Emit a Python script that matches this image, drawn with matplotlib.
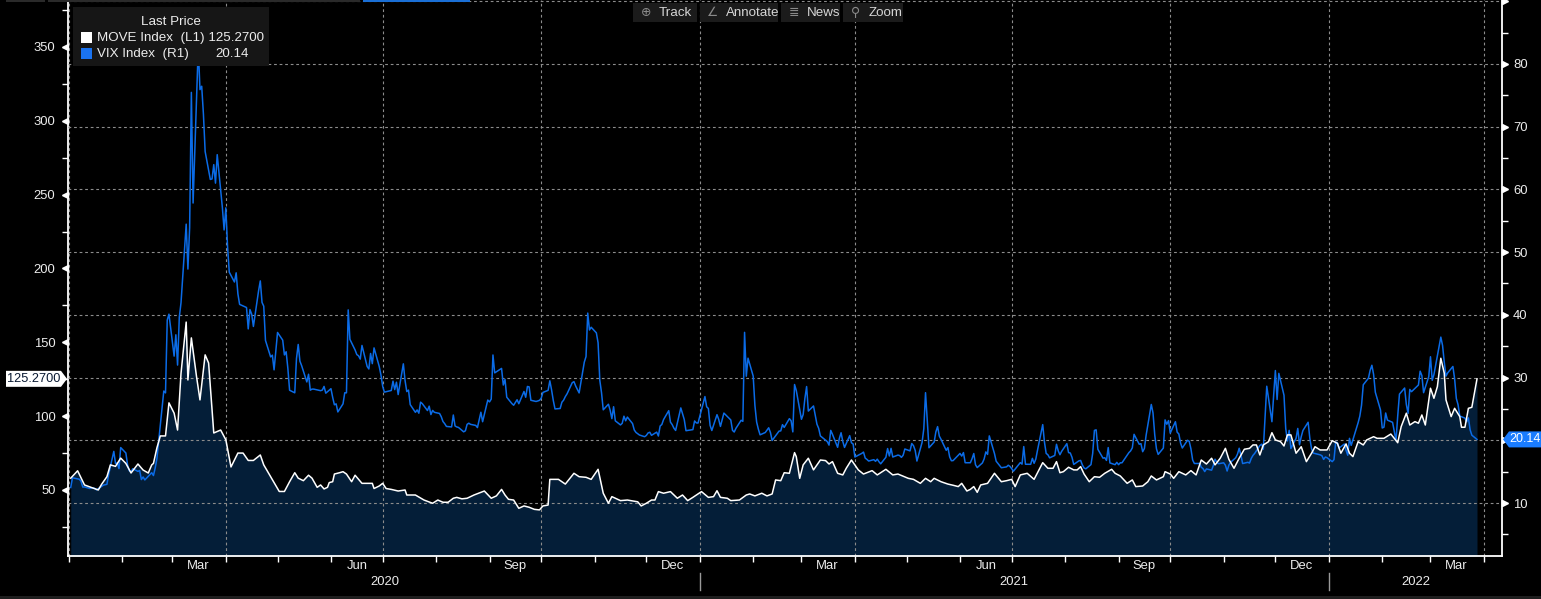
import matplotlib
matplotlib.use("Agg")
import numpy as np
import pandas as pd
import matplotlib.pyplot as plt
import matplotlib.dates as mdates
import matplotlib.transforms as mtransforms
from matplotlib.patches import Rectangle, Polygon
from matplotlib.ticker import MultipleLocator, NullFormatter, FuncFormatter

plt.rcParams['font.family'] = ['Liberation Sans', 'DejaVu Sans']

# --- data ---
# NYSE holidays in the window (VIX trading calendar)
holidays = ['2020-01-20', '2020-02-17', '2020-04-10', '2020-05-25', '2020-07-03',
            '2020-09-07', '2020-11-26', '2020-12-25',
            '2021-01-01', '2021-01-18', '2021-02-15', '2021-04-02', '2021-05-31',
            '2021-07-05', '2021-09-06', '2021-11-25', '2021-12-24',
            '2022-01-17', '2022-02-21']

# VIX daily closes, one row per month
vix_2020 = [
    12.47, 14.02, 13.85, 13.79, 13.45, 12.54, 12.56, 12.32, 12.39, 12.42, 12.32, 12.10, 12.85, 12.91, 12.98, 14.56, 18.23, 16.28, 16.39, 15.49, 18.84,
    17.97, 16.05, 15.15, 14.96, 15.47, 15.04, 15.18, 13.74, 14.15, 13.68, 14.83, 14.38, 15.56, 17.08, 25.03, 27.85, 27.56, 39.16, 40.11,
    33.42, 36.82, 31.99, 39.62, 41.94, 54.46, 47.30, 53.90, 75.47, 57.83, 82.69, 75.91, 76.45, 72.00, 66.04, 61.59, 61.67, 63.95, 61.00, 65.54, 57.08, 53.54,
    57.06, 50.91, 46.80, 45.24, 46.70, 43.35, 41.67, 41.17, 37.76, 40.84, 40.11, 38.15, 43.83, 45.41, 41.98, 41.38, 35.93, 33.29, 33.57, 31.23, 34.15,
    37.19, 35.97, 33.61, 34.12, 31.44, 27.98, 27.57, 33.04, 35.28, 32.61, 31.89, 29.30, 30.53, 27.99, 28.16, 28.16, 27.91, 28.01, 28.59, 27.51,
    28.23, 26.84, 25.66, 25.81, 24.52, 25.81, 27.57, 27.57, 40.79, 36.09, 34.40, 33.67, 33.47, 32.94, 35.12, 31.77, 31.37, 33.84, 32.22, 34.73, 31.78, 30.43,
    28.62, 27.68, 27.94, 29.43, 28.08, 29.26, 27.29, 32.19, 29.52, 27.76, 28.00, 25.68, 24.46, 24.84, 24.32, 26.08, 25.84, 24.74, 25.44, 24.10, 24.76, 24.46,
    24.28, 23.76, 22.99, 22.65, 22.21, 22.13, 24.03, 22.28, 22.13, 22.05, 21.35, 21.51, 22.54, 22.72, 22.54, 22.37, 22.03, 23.27, 24.47, 22.96, 26.41,
    26.12, 26.57, 33.60, 30.75, 31.46, 28.81, 29.71, 26.87, 25.85, 25.59, 26.04, 26.46, 25.83, 27.78, 26.86, 28.58, 28.51, 26.38, 26.19, 26.27, 26.37,
    26.70, 27.63, 27.96, 29.48, 28.06, 26.36, 25.00, 25.07, 26.07, 26.40, 26.97, 27.41, 29.18, 29.35, 28.65, 28.11, 27.55, 32.46, 33.35, 40.28, 37.59, 38.02,
    37.13, 35.55, 29.57, 27.58, 24.86, 25.75, 24.80, 23.45, 25.35, 23.10, 22.45, 22.71, 23.84, 23.11, 23.70, 22.66, 21.64, 21.25, 20.84, 20.57,
    20.77, 21.17, 21.28, 20.79, 21.30, 20.68, 22.27, 22.52, 23.31, 24.72, 22.89, 22.50, 21.93, 21.57, 25.16, 24.23, 23.31, 21.53, 21.70, 23.08, 22.77, 22.75,
]
vix_2021 = [
    26.97, 25.34, 25.07, 22.37, 21.56, 24.08, 23.33, 22.21, 23.25, 24.34, 23.24, 21.58, 21.32, 21.91, 23.19, 23.02, 37.21, 30.21, 33.09,
    30.24, 25.56, 22.91, 21.77, 20.87, 21.24, 21.63, 21.99, 21.25, 19.97, 21.46, 21.50, 22.49, 22.05, 23.45, 23.11, 21.34, 28.89, 27.95,
    23.35, 24.10, 26.67, 28.57, 24.66, 25.47, 24.03, 22.56, 21.91, 20.69, 20.03, 19.79, 19.23, 21.58, 20.95, 18.88, 20.30, 21.20, 19.81, 18.86, 20.74, 19.61, 19.40,
    17.33, 17.91, 18.12, 17.16, 16.95, 16.69, 16.91, 16.65, 16.99, 16.57, 16.25, 17.29, 18.68, 17.50, 18.71, 17.33, 17.64, 17.56, 17.28, 17.61, 18.61,
    18.31, 19.48, 19.15, 18.39, 16.69, 19.66, 21.84, 27.59, 23.13, 18.81, 19.72, 21.34, 22.18, 20.67, 20.15, 18.40, 18.84, 17.36, 16.74, 16.76,
    17.90, 17.48, 18.04, 16.42, 16.42, 17.07, 17.89, 16.10, 15.65, 16.39, 17.02, 18.15, 17.75, 20.70, 17.89, 16.66, 16.32, 15.97, 15.62, 15.76, 16.02, 15.83,
    15.48, 15.07, 16.44, 16.20, 19.00, 16.18, 16.17, 17.12, 16.33, 17.01, 18.45, 22.50, 19.73, 17.91, 17.69, 17.20, 17.58, 19.36, 18.31, 17.70, 18.24,
    19.46, 18.04, 17.97, 17.28, 16.15, 16.72, 16.79, 16.06, 15.59, 15.45, 16.12, 17.91, 21.57, 21.67, 18.56, 17.15, 17.22, 16.79, 18.84, 16.39, 16.11, 16.48,
    16.11, 16.41, 16.41, 18.03, 18.31, 18.80, 20.95, 19.37, 19.46, 18.18, 18.69, 20.81, 25.71, 24.36, 20.87, 18.63, 17.75, 18.76, 23.25, 22.56, 23.14,
    21.15, 22.96, 21.30, 21.00, 19.54, 18.77, 20.00, 19.85, 18.64, 16.86, 16.30, 16.30, 15.70, 15.49, 15.01, 15.43, 15.24, 15.98, 16.98, 16.53, 16.26,
    16.41, 16.03, 15.10, 16.03, 16.48, 17.22, 17.78, 18.73, 17.66, 16.29, 16.49, 16.37, 17.11, 17.59, 17.91, 19.17, 19.38, 18.58, 28.62, 22.96, 27.19,
    31.12, 26.50, 30.67, 27.18, 21.89, 19.90, 21.58, 18.69, 20.31, 21.89, 19.29, 20.57, 21.57, 22.87, 20.31, 18.63, 17.96, 17.68, 17.54, 16.95, 17.33, 17.22,
]
vix_2022 = [
    16.60, 16.91, 19.73, 19.61, 18.76, 19.40, 18.41, 17.62, 20.31, 19.19, 22.79, 23.85, 25.59, 28.85, 29.90, 31.16, 31.96, 30.49, 27.66, 24.83,
    21.96, 22.09, 24.35, 23.22, 22.86, 21.44, 19.96, 23.91, 27.36, 28.33, 25.70, 24.29, 28.11, 27.75, 28.81, 31.02, 30.32, 27.59, 30.15,
    33.32, 29.57, 30.48, 31.98, 36.45, 35.13, 32.45, 30.23, 30.75, 31.77, 29.83, 26.67, 25.67, 23.87, 23.53, 22.94, 23.57, 21.67, 20.81, 20.14,
]

# MOVE index: days since 2020-01-01 and level
move_days = [
    1, 5, 9, 17, 19, 22, 24, 27, 30, 33, 36, 40, 43, 46, 48, 49, 51, 53, 56, 58,
    61, 63, 65, 68, 69, 71, 74, 76, 79, 81, 84, 88, 91, 94, 98, 101, 104, 107, 111, 113,
    117, 122, 125, 128, 131, 133, 136, 139, 141, 144, 146, 148, 150, 151, 153, 154, 157, 159, 161, 164,
    166, 170, 173, 176, 177, 180, 182, 184, 187, 191, 195, 196, 201, 206, 211, 214, 217, 220, 223, 225,
    228, 231, 235, 241, 245, 248, 251, 253, 255, 258, 261, 264, 267, 270, 273, 275, 278, 279, 284, 288,
    293, 296, 300, 303, 307, 310, 313, 315, 320, 324, 330, 332, 335, 338, 340, 342, 345, 349, 353, 356,
    359, 362, 367, 371, 374, 376, 378, 382, 384, 389, 393, 395, 398, 402, 405, 408, 410, 413, 415, 418,
    421, 422, 424, 426, 429, 432, 436, 439, 441, 443, 446, 449, 451, 454, 458, 461, 466, 469, 474, 478,
    481, 487, 490, 494, 497, 500, 502, 506, 510, 513, 516, 518, 521, 523, 525, 527, 529, 533, 537, 541,
    544, 547, 549, 552, 556, 560, 562, 565, 568, 571, 573, 575, 577, 580, 583, 585, 587, 589, 592, 595,
    598, 601, 605, 607, 610, 614, 617, 619, 623, 626, 628, 631, 635, 636, 639, 641, 644, 648, 651, 654,
    657, 660, 663, 665, 668, 671, 673, 676, 679, 682, 685, 687, 689, 691, 693, 696, 698, 700, 703, 705,
    707, 709, 712, 715, 718, 721, 723, 726, 730, 733, 736, 738, 741, 743, 745, 748, 751, 753, 757, 759,
    763, 767, 771, 773, 776, 778, 781, 783, 785, 787, 790, 792, 794, 796, 798, 799, 802, 804, 807, 808,
    810, 812, 814, 817,
]
move_vals = [
    58, 63, 53.4, 50, 54, 59, 67, 66, 71.6, 68, 61.5, 67.6, 63.5, 61.5, 67, 68, 78.5, 86.6, 86.6, 109,
    102, 90.6, 129, 163.7, 124.5, 153, 126.8, 111, 141.5, 136, 88.6, 90.6, 84, 65.6, 75, 75, 70, 70, 73.7, 67,
    59, 49, 49, 55.6, 61.7, 58, 56.3, 60, 58, 51.8, 53.4, 50.7, 51.8, 55, 55.6, 60.8, 61.7, 62.4, 60.8, 55.6,
    60, 54.5, 54.5, 54.5, 51, 52.7, 54.5, 51, 50.4, 49.3, 50, 46.6, 46.6, 43.2, 41, 43.2, 41.7, 41.7, 44.4, 45,
    44, 44.4, 46.6, 49.3, 44.4, 46, 50.4, 46.6, 43.7, 43.2, 37.6, 39.2, 38.3, 36.9, 36.5, 39.2, 39.8, 57.2, 57.2, 54,
    61.3, 59, 58.6, 57.2, 64, 47.8, 41, 45.5, 42.8, 43.2, 42, 39.2, 41, 43.2, 43.2, 48.9, 47.8, 48.9, 44.4, 46.6,
    42.8, 45, 48.9, 45, 45.5, 49.5, 45, 44.4, 42.8, 43.2, 46.6, 47.3, 46, 47.8, 46, 47.3, 56.8, 56.3, 61.7, 61.3,
    75.3, 72.6, 57.9, 67, 71.5, 63.6, 70.3, 69.9, 67.6, 69.2, 61.3, 60.2, 64.7, 70.3, 63.6, 60.8, 63.1, 60.2, 64, 60.2,
    60.8, 57.9, 57.2, 54.5, 57.9, 55.6, 57.9, 55.6, 54, 53.2, 52.3, 54.5, 49.3, 50.4, 52.3, 48.4, 53.4, 54.5, 61.3, 55.6,
    56.3, 57.2, 52.3, 60.2, 61.3, 57.2, 61.7, 68.5, 64.7, 64.7, 69.2, 61.7, 62.4, 65.4, 63.6, 63.6, 65.8, 60.8, 55.6, 59,
    58.6, 61.3, 64, 61.3, 59.5, 54.5, 56.8, 52.3, 52.7, 55.6, 59.5, 56.8, 59, 62.4, 60.8, 57.9, 62.4, 60.2, 63.1, 60.2,
    70.3, 67.6, 71.5, 67, 71.5, 78.2, 70.8, 64.7, 71.5, 77.6, 78.2, 80.5, 80.5, 73.7, 80.5, 82.7, 88.8, 83.9, 82.7, 79.8,
    87.3, 87.3, 74.9, 79.3, 69.2, 74.9, 79.3, 77.1, 77.1, 83.4, 81.6, 74.9, 81.2, 74.9, 72.6, 82.7, 80.5, 83.9, 86.1, 85,
    85, 87.9, 82, 92.9, 102, 94, 96.3, 95.2, 100.8, 94, 118.9, 112.1, 120, 139.2, 129.1, 111, 99.7, 105.3, 99.7, 92.5,
    92.5, 105.3, 106, 125.27,
]

left_ticks = [50, 100, 150, 200, 250, 300, 350]
right_ticks = [10, 20, 30, 40, 50, 60, 70, 80, 90]
month_names = {3: 'Mar', 6: 'Jun', 9: 'Sep', 12: 'Dec'}
toolbar = [('\u2295', 'Track'), ('\u2220', 'Annotate'), ('\u2263', 'News'), ('\u26b2', 'Zoom')]

# --- figure ---
W, H = 1541, 599
BG = 'black'
FILL = '#041e38'
VIX_C = '#0b6be6'
TXT = '#ececec'
GRID = '#8c8c8c'

t0 = pd.Timestamp('2020-01-01')
vix = vix_2020 + vix_2021 + vix_2022
vix_dates = pd.bdate_range('2020-01-02', '2022-03-28', freq='C', holidays=holidays)
move_dates = t0 + pd.to_timedelta(move_days, unit='D')

fig = plt.figure(figsize=(W / 100, H / 100), dpi=100, facecolor=BG)
ax = fig.add_axes([68 / W, (H - 556) / H, (1502 - 68) / W, 556 / H])
ax.set_facecolor(BG)
ax2 = ax.twinx()

ax.fill_between(move_dates, move_vals, 0, color=FILL, lw=0, zorder=1)
ax2.plot(vix_dates, vix, color=VIX_C, lw=1.1, zorder=3)
ax2.plot(move_dates, move_vals, color='white', lw=1.1, zorder=4, transform=ax.transData)

x0 = mdates.date2num(t0)
ax.set_xlim(x0 - 0.58, x0 + 831.5)
ax.set_ylim(5.3, 381.8)
ax2.set_ylim(1.55, 90.2)

# x axis: month ticks, quarter grid
ax.xaxis.set_major_locator(mdates.MonthLocator(bymonth=[1, 4, 7, 10]))
ax.xaxis.set_minor_locator(mdates.MonthLocator())
ax.xaxis.set_major_formatter(NullFormatter())
ax.tick_params(axis='x', which='both', direction='out', length=4.5, width=1, color='white')
ax.grid(axis='x', which='major', color=GRID, lw=0.8, ls=(0, (2.5, 2.5)))

# left axis
ax.set_yticks(left_ticks)
ax.yaxis.set_minor_locator(MultipleLocator(25))
ax.tick_params(axis='y', which='major', length=0, pad=9, labelsize=9.4, labelcolor=TXT)
ax.tick_params(axis='y', which='minor', length=4.5, width=1, color='white')

# right axis (the label under the last-value tag is hidden by the tag)
ax2.set_yticks(right_ticks)
ax2.yaxis.set_minor_locator(MultipleLocator(5))
ax2.yaxis.set_major_formatter(FuncFormatter(
    lambda v, p: '' if (v > 85 or abs(v - vix[-1]) < 2.5) else f'{v:.0f}'))
ax2.tick_params(axis='y', which='major', length=0, pad=8, labelsize=9.4, labelcolor=TXT)
ax2.tick_params(axis='y', which='minor', length=4.5, width=1, color='white')
ax2.grid(axis='y', which='major', color=GRID, lw=0.8, ls=(0, (2.5, 2.5)))

for a in (ax, ax2):
    for s in a.spines.values():
        s.set_visible(False)
ax.spines['left'].set_visible(True)
ax.spines['bottom'].set_visible(True)
ax2.spines['right'].set_visible(True)
for s in (ax.spines['left'], ax.spines['bottom'], ax2.spines['right']):
    s.set_color('white')
    s.set_linewidth(1.3)

# triangle markers on the major ticks
axw = 1502 - 68
trL = mtransforms.blended_transform_factory(ax.transAxes, ax.transData)
ax.plot(np.full(len(left_ticks), -3.5 / axw), left_ticks, ls='none', marker='<', ms=5,
        color='white', clip_on=False, transform=trL, zorder=5)
trR = mtransforms.blended_transform_factory(ax2.transAxes, ax2.transData)
ax2.plot(np.full(len(right_ticks), 1 + 3.5 / axw), right_ticks, ls='none', marker='>', ms=5,
         color='white', clip_on=False, transform=trR, zorder=5)

# month and year labels
trX = mtransforms.blended_transform_factory(ax.transData, fig.transFigure)
lo, hi = ax.get_xlim()
for yr in (2020, 2021, 2022):
    for m, name in month_names.items():
        d = mdates.date2num(pd.Timestamp(yr, m, 16))
        if lo < d < hi:
            ax.text(d, 1 - 566 / H, name, transform=trX, ha='center', va='center',
                    fontsize=9.4, color=TXT)
    a = max(mdates.date2num(pd.Timestamp(yr, 1, 1)), lo)
    b = min(mdates.date2num(pd.Timestamp(yr + 1, 1, 1)), hi)
    ax.text((a + b) / 2, 1 - 582 / H, str(yr), transform=trX, ha='center', va='center',
            fontsize=9.4, color=TXT)
    if yr > 2020:
        ax.plot([a, a], [1 - 573 / H, 1 - 590 / H], transform=trX, color='#9a9a9a',
                lw=1, clip_on=False)

# last-value tags on both axes
px = mtransforms.IdentityTransform()
yl = ax.transData.transform((x0, move_vals[-1]))[1]
fig.add_artist(Polygon([(6, yl - 8), (61, yl - 8), (67, yl), (61, yl + 8), (6, yl + 8)],
                       closed=True, fc='white', ec='none', transform=px))
fig.text(34, yl, f'{move_vals[-1]:.4f}', transform=px, ha='center', va='center',
         fontsize=9.2, color='#0a1a33')
yr_ = ax2.transData.transform((x0, vix[-1]))[1]
fig.add_artist(Polygon([(1503, yr_), (1509, yr_ - 8), (1545, yr_ - 8), (1545, yr_ + 8), (1509, yr_ + 8)],
                       closed=True, fc='#1a7cff', ec='none', transform=px))
fig.text(1509, yr_, f'{vix[-1]:.2f}', transform=px, ha='left', va='center',
         fontsize=9, color='white')

# legend box
fig.add_artist(Rectangle((73 / W, 1 - 66 / H), 196 / W, 59 / H, transform=fig.transFigure,
                         fc='#161616', ec='none'))
fig.text(171 / W, 1 - 22 / H, 'Last Price', ha='center', va='center', fontsize=9.6, color=TXT)
fig.add_artist(Rectangle((81 / W, 1 - 43 / H), 11 / W, 11 / H, transform=fig.transFigure,
                         fc='white', ec='none'))
fig.add_artist(Rectangle((81 / W, 1 - 59 / H), 11 / W, 11 / H, transform=fig.transFigure,
                         fc='#1a73f0', ec='none'))
fig.text(97 / W, 1 - 38 / H, f'MOVE Index  (L1) {move_vals[-1]:.4f}', va='center',
         fontsize=9.6, color=TXT)
fig.text(97 / W, 1 - 54 / H, 'VIX Index  (R1)', va='center', fontsize=9.6, color=TXT)
fig.text(249 / W, 1 - 54 / H, f'{vix[-1]:.2f}', va='center', ha='right', fontsize=9.6, color=TXT)

# toolbar buttons at the top
bx = [(633, 697), (700, 778), (781, 840), (843, 903)]
for (icon, label), (xa, xb) in zip(toolbar, bx):
    fig.add_artist(Rectangle((xa / W, 1 - 22 / H), (xb - xa) / W, 19 / H,
                             transform=fig.transFigure, fc='#1b1b1b', ec='none'))
    fig.text((xa + 13) / W, 1 - 12.5 / H, icon, ha='center', va='center', fontsize=9,
             color='#8a8a8a', family=['DejaVu Sans'])
    fig.text((xa + 26) / W, 1 - 12.5 / H, label, ha='left', va='center', fontsize=9.6,
             color='#d6d6d6')

# thin tab strips at the very top and frame strip at the bottom
for xa, xb, c in [(6, 45, '#2a2a2a'), (48, 360, '#2a2a2a'), (363, 470, '#1a6fd6')]:
    fig.add_artist(Rectangle((xa / W, 1 - 2 / H), (xb - xa) / W, 2 / H,
                             transform=fig.transFigure, fc=c, ec='none'))
fig.add_artist(Rectangle((0, 0), 1, 3 / H, transform=fig.transFigure, fc='#1e1e1e', ec='none'))

fig.savefig('out.png', dpi=100, facecolor=BG)
